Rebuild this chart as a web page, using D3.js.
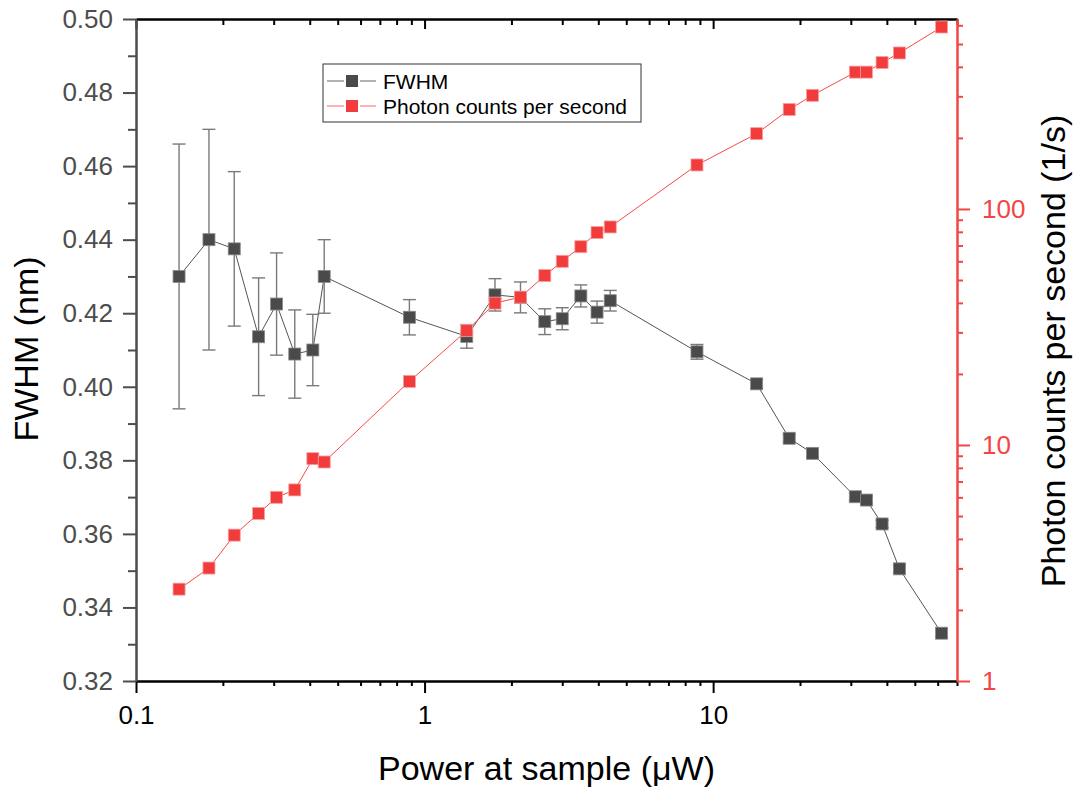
<!DOCTYPE html>
<html>
    <head>
        <title>FWHM and photon counts</title>
    </head>
    <body style="margin:0; background:white;">
        <script src="https://d3js.org/d3.v7.min.js"></script>
        <style>
            #chart text { font-family: "Liberation Sans", Arial, sans-serif; }
            #chart .left path, #chart .left line { stroke: #4d4d4d; stroke-width: 2; }
            #chart .left text { fill: #4d4d4d; font-size: 26px; }
            #chart .bottom path, #chart .bottom line { stroke: black; stroke-width: 2; }
            #chart .bottom text { fill: black; font-size: 26px; }
            #chart .top path, #chart .top line { stroke: black; stroke-width: 2; }
            #chart .right path, #chart .right line { stroke: #f24646; stroke-width: 2; }
            #chart .right text { fill: #f24646; font-size: 26px; }
        </style>
        <svg id="chart"></svg>
        <script>
            // values
            var power = [0.141, 0.179, 0.219, 0.266, 0.307, 0.355, 0.410, 0.449, 0.886, 1.40, 1.754, 2.15, 2.61,
                         3.00, 3.48, 3.96, 4.40, 8.79, 14.15, 18.35, 22.1, 31.1, 34.0, 38.5, 44.2, 61.9];
            var fwhm = [0.430, 0.440, 0.4375, 0.4136, 0.4225, 0.4089, 0.410, 0.430, 0.4189, 0.4137, 0.425, 0.4243, 0.4177,
                        0.4185, 0.4247, 0.4203, 0.4234, 0.4095, 0.4008, 0.3860, 0.3819, 0.3701, 0.3692, 0.3627, 0.3505, 0.3330];
            var fwhmErr = [0.036, 0.030, 0.021, 0.016, 0.0139, 0.012, 0.0097, 0.010, 0.0048, 0.0032, 0.0044, 0.0042, 0.0035,
                           0.003, 0.003, 0.003, 0.0028, 0.002, 0.0012, 0.001, 0.001, 0.001, 0.001, 0.001, 0.001, 0.001];
            var counts = [2.45, 3.01, 4.15, 5.13, 6.0, 6.45, 8.75, 8.47, 18.6, 30.5, 39.9, 42.3, 52.2,
                          60.0, 69.2, 79.4, 83.9, 153.6, 208.5, 264, 303, 380, 380, 417, 458, 590];

            var xTicks = [0.1, 1, 10];
            var yLeftTicks = [0.32, 0.34, 0.36, 0.38, 0.40, 0.42, 0.44, 0.46, 0.48, 0.50];
            var yRightTicks = [1, 10, 100];
            var seriesNames = ["FWHM", "Photon counts per second"];

            var grey = "#4a4a4a", red = "#f23c3c";

            var margin = {top: 19, right: 121, bottom: 108, left: 136};
            var width = 1078 - margin.left - margin.right,
                height = 789 - margin.top - margin.bottom;

            var svg = d3.select("#chart")
                .attr("width", width + margin.left + margin.right)
                .attr("height", height + margin.top + margin.bottom)
                .append("g")
                .attr("transform", "translate(" + margin.left + "," + margin.top + ")");

            var x = d3.scaleLog().domain([0.1, 70]).range([0, width]);
            var yL = d3.scaleLinear().domain([0.32, 0.50]).range([height, 0]);
            var yR = d3.scaleLog().domain([1, 638]).range([height, 0]);

            // minor ticks
            var xMinor = [];
            [0.1, 1, 10].forEach(function (d) {
                for (var k = 2; k <= 9; k++) if (d * k <= 70.01) xMinor.push(d * k);
            });
            var yRightMinor = [];
            [1, 10, 100].forEach(function (d) {
                for (var k = 2; k <= 9; k++) if (d * k <= 638) yRightMinor.push(d * k);
            });
            var yLeftMinor = d3.range(0.33, 0.50, 0.02);

            // top axis, ticks pointing in
            svg.append("g").attr("class", "top")
                .call(d3.axisBottom(x).tickValues(xMinor).tickSize(6).tickSizeOuter(0).tickFormat(""));
            svg.append("g").attr("class", "top")
                .call(d3.axisBottom(x).tickValues(xTicks).tickSize(10).tickSizeOuter(0).tickFormat(""));

            // bottom axis
            svg.append("g").attr("class", "bottom")
                .attr("transform", "translate(0," + height + ")")
                .call(d3.axisBottom(x).tickValues(xMinor).tickSize(5).tickSizeOuter(0).tickFormat(""));
            svg.append("g").attr("class", "bottom")
                .attr("transform", "translate(0," + height + ")")
                .call(d3.axisBottom(x).tickValues(xTicks).tickSize(12).tickSizeOuter(0).tickPadding(13)
                    .tickFormat(d3.format("")));

            // left axis
            svg.append("g").attr("class", "left")
                .call(d3.axisLeft(yL).tickValues(yLeftMinor).tickSize(8).tickSizeOuter(0).tickFormat(""));
            svg.append("g").attr("class", "left")
                .call(d3.axisLeft(yL).tickValues(yLeftTicks).tickSize(13).tickSizeOuter(0).tickPadding(10)
                    .tickFormat(d3.format(".2f")));

            // right axis
            svg.append("g").attr("class", "right")
                .attr("transform", "translate(" + width + ",0)")
                .call(d3.axisRight(yR).tickValues(yRightMinor).tickSize(6).tickSizeOuter(0).tickFormat(""));
            svg.append("g").attr("class", "right")
                .attr("transform", "translate(" + width + ",0)")
                .call(d3.axisRight(yR).tickValues(yRightTicks).tickSize(13).tickSizeOuter(0).tickPadding(12)
                    .tickFormat(d3.format("d")));

            // axis titles
            svg.append("text")
                .attr("x", width / 2).attr("y", 780 - margin.top)
                .attr("text-anchor", "middle").style("font-size", "34px")
                .text("Power at sample (\u03bcW)");
            svg.append("text")
                .attr("transform", "translate(" + (38 - margin.left) + "," + (349 - margin.top) + ") rotate(-90)")
                .attr("text-anchor", "middle").style("font-size", "34px")
                .text("FWHM (nm)");
            svg.append("text")
                .attr("transform", "translate(" + (1065 - margin.left) + "," + (351 - margin.top) + ") rotate(-90)")
                .attr("text-anchor", "middle").style("font-size", "34px")
                .text("Photon counts per second (1/s)");

            var fw = power.map(function (p, i) { return {x: p, y: fwhm[i], e: fwhmErr[i]}; });
            var pc = power.map(function (p, i) { return {x: p, y: counts[i]}; });

            // FWHM series
            svg.append("path")
                .datum(fw)
                .attr("fill", "none").attr("stroke", "#555").attr("stroke-width", 1)
                .attr("d", d3.line().x(function (d) { return x(d.x); }).y(function (d) { return yL(d.y); }));

            var err = svg.selectAll(".err").data(fw).enter().append("g").attr("class", "err")
                .attr("stroke", "#7a7a7a").attr("stroke-width", 1.4);
            err.append("line")
                .attr("x1", function (d) { return x(d.x); }).attr("x2", function (d) { return x(d.x); })
                .attr("y1", function (d) { return yL(d.y + d.e); }).attr("y2", function (d) { return yL(d.y - d.e); });
            err.append("line")
                .attr("x1", function (d) { return x(d.x) - 6.5; }).attr("x2", function (d) { return x(d.x) + 6.5; })
                .attr("y1", function (d) { return yL(d.y + d.e); }).attr("y2", function (d) { return yL(d.y + d.e); });
            err.append("line")
                .attr("x1", function (d) { return x(d.x) - 6.5; }).attr("x2", function (d) { return x(d.x) + 6.5; })
                .attr("y1", function (d) { return yL(d.y - d.e); }).attr("y2", function (d) { return yL(d.y - d.e); });

            svg.selectAll(".fwpt").data(fw).enter().append("rect").attr("class", "fwpt")
                .attr("x", function (d) { return x(d.x) - 6; })
                .attr("y", function (d) { return yL(d.y) - 6; })
                .attr("width", 12).attr("height", 12)
                .attr("fill", grey).attr("stroke", "#8a8a8a").attr("stroke-width", 0.8);

            // photon counts series
            svg.append("path")
                .datum(pc)
                .attr("fill", "none").attr("stroke", "#f44b4b").attr("stroke-width", 1)
                .attr("d", d3.line().x(function (d) { return x(d.x); }).y(function (d) { return yR(d.y); }));

            svg.selectAll(".pcpt").data(pc).enter().append("rect").attr("class", "pcpt")
                .attr("x", function (d) { return x(d.x) - 6; })
                .attr("y", function (d) { return yR(d.y) - 6; })
                .attr("width", 12).attr("height", 12)
                .attr("fill", red).attr("stroke", "#f7a0a0").attr("stroke-width", 0.8);

            // legend
            var lg = svg.append("g").attr("transform", "translate(" + (323 - margin.left) + "," + (64 - margin.top) + ")");
            lg.append("rect").attr("width", 318).attr("height", 58)
                .attr("fill", "white").attr("stroke", "#333").attr("stroke-width", 1);
            var rows = lg.selectAll(".row").data(seriesNames).enter().append("g")
                .attr("transform", function (d, i) { return "translate(0," + (17 + i * 25) + ")"; });
            rows.append("line").attr("x1", 4).attr("x2", 21).attr("y1", 0).attr("y2", 0)
                .attr("stroke", function (d, i) { return i ? "#f79a9a" : "#999"; }).attr("stroke-width", 1.5);
            rows.append("line").attr("x1", 37).attr("x2", 53).attr("y1", 0).attr("y2", 0)
                .attr("stroke", function (d, i) { return i ? "#f79a9a" : "#999"; }).attr("stroke-width", 1.5);
            rows.append("rect").attr("x", 23).attr("y", -6).attr("width", 12).attr("height", 12)
                .attr("fill", function (d, i) { return i ? red : grey; });
            rows.append("text").attr("x", 60).attr("y", 7.5)
                .style("font-size", "21px").attr("fill", "black")
                .text(function (d) { return d; });
        </script>
    </body>
</html>
